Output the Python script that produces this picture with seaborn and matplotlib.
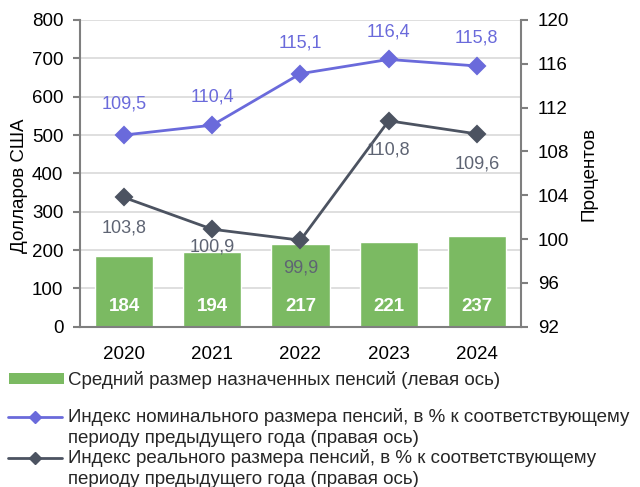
import matplotlib
matplotlib.use("Agg")
import matplotlib.pyplot as plt
import seaborn as sns
import pandas as pd
from matplotlib.patches import Patch
from matplotlib.lines import Line2D
from matplotlib.legend_handler import HandlerLine2D

years = ["2020", "2021", "2022", "2023", "2024"]
avg_pension = [184, 194, 217, 221, 237]
nominal_index = [109.5, 110.4, 115.1, 116.4, 115.8]
real_index = [103.8, 100.9, 99.9, 110.8, 109.6]

legend_labels = [
    "Средний размер назначенных пенсий (левая ось)",
    "Индекс номинального размера пенсий, в % к соответствующему\nпериоду предыдущего года (правая ось)",
    "Индекс реального размера пенсий, в % к соответствующему\nпериоду предыдущего года (правая ось)",
]

sns.set_theme(style="white")
plt.rcParams["font.family"] = ["Liberation Sans", "DejaVu Sans"]

GREEN = "#7BBA62"
BLUE = "#6A6ADB"
GRAY = "#4C5361"
GRAYTXT = "#5E6473"
SPINE = "#7F7F7F"
FS = 13.5


class HandlerTopLine(HandlerLine2D):
    def __init__(self, shift=7.5, **kw):
        super().__init__(**kw)
        self.shift = shift

    def create_artists(self, legend, orig_handle, xdescent, ydescent, width, height, fontsize, trans):
        arts = super().create_artists(legend, orig_handle, xdescent, ydescent, width, height, fontsize, trans)
        for a in arts:
            a.set_ydata([y + self.shift for y in a.get_ydata()])
        return arts


df = pd.DataFrame({"year": years, "avg": avg_pension, "nom": nominal_index, "real": real_index})

fig = plt.figure(figsize=(6.4, 4.87), dpi=100)
ax = fig.add_axes([0.125, 0.329, 0.689, 0.630])

sns.barplot(data=df, x="year", y="avg", color=GREEN, saturation=1, width=0.66, ax=ax, zorder=2)
ax.set_ylim(0, 800)
ax.set_yticks(range(0, 801, 100))
ax.yaxis.grid(True, color="#D9D9D9", lw=1.2, zorder=0)
ax.set_axisbelow(True)
for i, v in enumerate(avg_pension):
    ax.text(i, 53, str(v), ha="center", va="center", color="white", fontsize=FS, fontweight="bold", zorder=5)

ax2 = ax.twinx()
sns.pointplot(data=df, x="year", y="nom", color=BLUE, markers="D", markersize=8.5, linewidth=2, ax=ax2)
sns.pointplot(data=df, x="year", y="real", color=GRAY, markers="D", markersize=8.5, linewidth=2, ax=ax2)
ax2.set_ylim(92, 120)
ax2.set_yticks(range(92, 121, 4))
ax2.set_xlim(-0.5, 4.5)
ax.set_xlim(-0.5, 4.5)

nom_off = [22, 20, 22, 20, 20]
real_off = [-22, -13, -20, -21, -22]
for i, v in enumerate(nominal_index):
    ax2.annotate(f"{v:.1f}".replace(".", ","), (i, v), xytext=(0, nom_off[i]), textcoords="offset points",
                 ha="center", va="center", color=BLUE, fontsize=13)
for i, v in enumerate(real_index):
    ax2.annotate(f"{v:.1f}".replace(".", ","), (i, v), xytext=(0, real_off[i]), textcoords="offset points",
                 ha="center", va="center", color=GRAYTXT, fontsize=13)

for a in (ax, ax2):
    for s in ("top", "left", "right", "bottom"):
        a.spines[s].set_visible(False)
ax.spines["left"].set_visible(True)
ax.spines["left"].set_color(SPINE)
ax.spines["left"].set_linewidth(1.5)
ax.spines["bottom"].set_visible(True)
ax.spines["bottom"].set_color(SPINE)
ax.spines["bottom"].set_linewidth(1.5)
ax2.spines["right"].set_visible(True)
ax2.spines["right"].set_color(SPINE)
ax2.spines["right"].set_linewidth(1.5)

ax.tick_params(axis="y", left=True, length=5, width=1.5, color=SPINE, labelsize=FS, labelcolor="black", pad=7)
ax.tick_params(axis="x", bottom=False, labelsize=FS, labelcolor="black", pad=8)
ax2.tick_params(axis="y", right=True, length=5, width=1.5, color=SPINE, labelsize=FS, labelcolor="black", pad=7)

ax.set_xlabel("")
ax.set_ylabel("Долларов США", fontsize=FS, color="black")
ax.yaxis.set_label_coords(-0.118, 0.46)
ax2.set_ylabel("Процентов", fontsize=FS, color="black")
ax2.yaxis.set_label_coords(1.134, 0.497)

h1 = [Patch(facecolor=GREEN, edgecolor="none")]
leg1 = fig.legend(h1, legend_labels[:1], loc="upper left", bbox_to_anchor=(0.002, 0.254), frameon=False,
                  fontsize=FS, handlelength=2.95, handleheight=0.55, handletextpad=0.2, borderaxespad=0)
h2 = [Line2D([0], [0], color=BLUE, lw=2, marker="D", markersize=6),
      Line2D([0], [0], color=GRAY, lw=2, marker="D", markersize=6)]
leg2 = fig.legend(h2, legend_labels[1:], loc="upper left", bbox_to_anchor=(0.0, 0.178), frameon=False,
                  fontsize=FS, handlelength=2.9, handletextpad=0.3, labelspacing=0.12, borderaxespad=0,
                  handler_map={Line2D: HandlerTopLine(shift=7.5)})
for t in leg1.get_texts() + leg2.get_texts():
    t.set_linespacing(1.3)

fig.savefig("out.png", dpi=100)
